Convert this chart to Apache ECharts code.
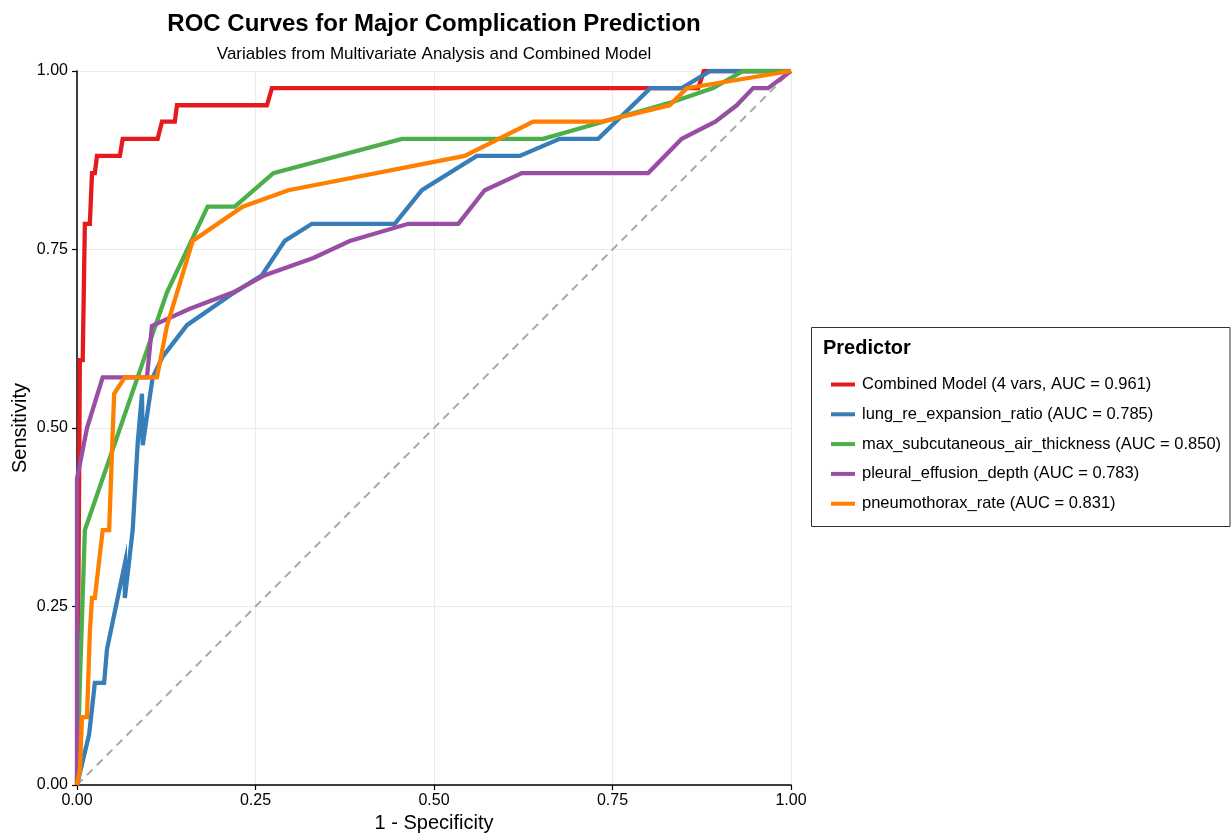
<!DOCTYPE html>
<html>
<head>
<meta charset="utf-8">
<script src="https://cdn.jsdelivr.net/npm/echarts@6/dist/echarts.min.js"></script>
<style>
html,body{margin:0;padding:0;background:#fff;}
#chart{width:1231px;height:834px;}
</style>
</head>
<body>
<div id="chart"></div>
<script>
const seriesNames = [
  "Combined Model (4 vars, AUC = 0.961)",
  "lung_re_expansion_ratio (AUC = 0.785)",
  "max_subcutaneous_air_thickness (AUC = 0.850)",
  "pleural_effusion_depth (AUC = 0.783)",
  "pneumothorax_rate (AUC = 0.831)"
];
const seriesColors = ["#E41A1C", "#377EB8", "#4DAF4A", "#984EA3", "#FF7F00"];

// [1 - specificity, sensitivity]
const combinedRoc = [[0,0],[0.003,0.429],[0.004,0.595],[0.008,0.595],[0.011,0.786],[0.018,0.786],[0.021,0.857],[0.025,0.857],[0.028,0.881],[0.060,0.881],[0.064,0.905],[0.113,0.905],[0.119,0.929],[0.137,0.929],[0.140,0.952],[0.266,0.952],[0.273,0.976],[0.870,0.976],[0.878,1.0],[1,1]];
const lungRoc = [[0,0],[0.017,0.071],[0.025,0.143],[0.038,0.143],[0.042,0.190],[0.067,0.310],[0.067,0.262],[0.078,0.357],[0.085,0.479],[0.091,0.548],[0.092,0.476],[0.106,0.571],[0.120,0.600],[0.154,0.644],[0.219,0.689],[0.259,0.714],[0.291,0.762],[0.329,0.786],[0.445,0.786],[0.483,0.833],[0.560,0.881],[0.620,0.881],[0.676,0.905],[0.730,0.905],[0.803,0.976],[0.847,0.976],[0.887,1.0],[1,1]];
const maxAirRoc = [[0,0],[0.004,0.143],[0.011,0.357],[0.126,0.690],[0.183,0.810],[0.221,0.810],[0.275,0.857],[0.455,0.905],[0.653,0.905],[0.737,0.929],[0.835,0.957],[0.891,0.976],[0.933,1.0],[1,1]];
const pleuralRoc = [[0,0],[0,0.429],[0.014,0.500],[0.036,0.571],[0.098,0.571],[0.105,0.643],[0.158,0.667],[0.219,0.690],[0.263,0.714],[0.331,0.738],[0.382,0.762],[0.464,0.786],[0.534,0.786],[0.571,0.833],[0.623,0.857],[0.800,0.857],[0.847,0.905],[0.894,0.929],[0.924,0.952],[0.947,0.976],[0.968,0.976],[1,1]];
const pneumoRoc = [[0,0],[0.004,0.021],[0.007,0.095],[0.014,0.095],[0.018,0.214],[0.021,0.262],[0.025,0.262],[0.036,0.357],[0.045,0.357],[0.052,0.548],[0.067,0.571],[0.112,0.571],[0.126,0.643],[0.162,0.762],[0.232,0.810],[0.296,0.833],[0.543,0.881],[0.639,0.929],[0.735,0.929],[0.830,0.952],[0.854,0.976],[1,1]];
const referenceDiag = [[0,0],[1,1]];

const rocData = [combinedRoc, lungRoc, maxAirRoc, pleuralRoc, pneumoRoc];
const FONT = "Liberation Sans, Arial, sans-serif";

const chart = echarts.init(document.getElementById('chart'), null, {renderer: 'canvas'});

const series = [{
  name: 'ref',
  type: 'line',
  data: referenceDiag,
  symbol: 'none',
  silent: true,
  lineStyle: {color: '#A9A9A9', width: 2, type: [8, 6]},
  z: 1
}];
rocData.forEach((d, i) => {
  series.push({
    name: seriesNames[i],
    type: 'line',
    data: d,
    symbol: 'none',
    lineStyle: {color: seriesColors[i], width: 4.3, join: 'miter'},
    itemStyle: {color: seriesColors[i]},
    z: 2
  });
});

const axisCommon = {
  type: 'value',
  min: 0, max: 1, interval: 0.25,
  axisLine: {show: true, lineStyle: {color: '#000', width: 1.5}},
  axisTick: {show: true, length: 5, lineStyle: {color: '#000', width: 1.2}},
  axisLabel: {color: '#000', fontSize: 16, fontFamily: FONT, formatter: v => v.toFixed(2)},
  splitLine: {show: true, lineStyle: {color: '#EBEBEB', width: 1}},
  nameTextStyle: {color: '#000', fontSize: 20, fontFamily: FONT}
};

chart.setOption({
  animation: false,
  backgroundColor: '#fff',
  title: [{
    text: 'ROC Curves for Major Complication Prediction',
    left: 429, top: 7, textAlign: 'center',
    textStyle: {fontFamily: FONT, fontSize: 24, fontWeight: 'bold', color: '#000'}
  }, {
    text: 'Variables from Multivariate Analysis and Combined Model',
    left: 429, top: 41, textAlign: 'center',
    textStyle: {fontFamily: FONT, fontSize: 17, fontWeight: 'normal', color: '#000'}
  }],
  grid: {left: 77, right: 440, top: 71, bottom: 49, containLabel: false, outerBoundsMode: 'none'},
  xAxis: Object.assign({}, axisCommon, {
    name: '1 - Specificity', nameLocation: 'middle', nameGap: 28, nameMoveOverlap: false,
    axisLabel: Object.assign({}, axisCommon.axisLabel, {margin: 8})
  }),
  yAxis: Object.assign({}, axisCommon, {
    name: 'Sensitivity', nameLocation: 'middle', nameGap: 47, nameMoveOverlap: false,
    axisLabel: Object.assign({}, axisCommon.axisLabel, {margin: 9})
  }),
  legend: {
    orient: 'vertical',
    left: 826, top: 370,
    data: seriesNames,
    icon: 'rect',
    itemWidth: 24, itemHeight: 4,
    itemGap: 10.8,
    textStyle: {fontFamily: FONT, fontSize: 16.5, color: '#000', lineHeight: 19, padding: [0,0,0,2]},
    selectedMode: false
  },
  graphic: [{
    type: 'rect',
    shape: {x: 811.5, y: 327.5, width: 418.5, height: 199},
    style: {fill: '#fff', stroke: '#333', lineWidth: 1},
    z: -1
  }, {
    type: 'text',
    left: 823, top: 338,
    style: {text: 'Predictor', fontFamily: FONT, fontSize: 20, fontWeight: 'bold', fill: '#000'}
  }],
  series: series
});
</script>
</body>
</html>
